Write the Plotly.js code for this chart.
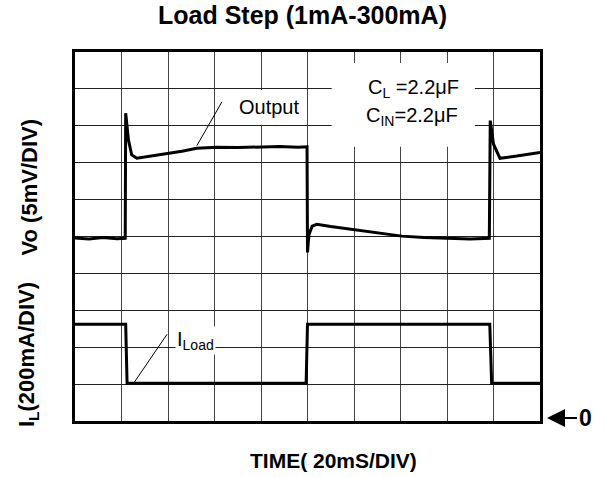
<!DOCTYPE html>
<html>
<head>
<meta charset="utf-8">
<script src="https://cdn.plot.ly/plotly-3.0.1.min.js"></script>
<style>html,body{margin:0;padding:0;background:#fff}</style>
</head>
<body>
<div id="chart" style="width:605px;height:477px"></div>
<script>
// Time axis in divisions (20 ms/div), vertical in divisions
var voTime = [0, 0.3, 0.6, 0.9, 1.08, 1.09, 1.15, 1.22, 1.33, 1.54, 1.97, 2.3, 2.62, 3.05, 3.5, 3.98, 4.4, 4.8, 4.99, 5.0, 5.03, 5.1, 5.2, 5.5, 6.0, 6.5, 7.03, 7.5, 8.03, 8.5, 8.91, 8.93, 9.0, 9.14, 9.5, 9.96, 10];
var voDiv  = [4.96, 4.93, 4.97, 4.94, 4.95, 8.34, 7.61, 7.21, 7.12, 7.16, 7.25, 7.31, 7.39, 7.42, 7.41, 7.43, 7.44, 7.42, 7.43, 4.57, 5.05, 5.28, 5.33, 5.27, 5.18, 5.09, 5.01, 4.97, 4.95, 4.93, 4.95, 8.14, 7.5, 7.12, 7.18, 7.27, 7.28];

var ilTime = [0, 1.09, 1.12, 2.0, 3.0, 4.0, 4.97, 5.0, 6.0, 7.0, 8.0, 8.92, 8.96, 10];
var ilDiv  = [2.62, 2.62, 1.02, 1.02, 1.02, 1.02, 1.02, 2.62, 2.62, 2.62, 2.62, 2.62, 1.02, 1.02];

var FONT = 'Liberation Sans, Arial, sans-serif';

var traces = [
  {x: voTime, y: voDiv, mode: 'lines', name: 'Output', line: {color: '#000', width: 3}, hoverinfo: 'skip'},
  {x: ilTime, y: ilDiv, mode: 'lines', name: 'ILoad', line: {color: '#000', width: 3}, hoverinfo: 'skip'}
];

function px2x(p){ return (p - 75) / 465; }
function py2y(p){ return (421 - p) / 369; }

var layout = {
  width: 605, height: 477,
  margin: {l: 75, r: 65, t: 52, b: 56},
  paper_bgcolor: '#fff', plot_bgcolor: '#fff',
  showlegend: false,
  font: {family: FONT, color: '#000'},
  title: {text: '<b>Load Step (1mA-300mA)</b>', font: {size: 25, family: FONT, color: '#000'},
          x: 0.5, xanchor: 'center', y: 1 - 15/477, yanchor: 'middle'},
  xaxis: {range: [0, 10], dtick: 1, tick0: 0, showticklabels: false, ticks: '',
          showgrid: true, gridcolor: '#444', gridwidth: 1, zeroline: false,
          showline: true, linecolor: '#000', linewidth: 3, mirror: true, fixedrange: true},
  yaxis: {range: [0, 10], dtick: 1, tick0: 0, showticklabels: false, ticks: '',
          showgrid: true, gridcolor: '#222', gridwidth: 1, zeroline: false,
          showline: true, linecolor: '#000', linewidth: 3, mirror: true, fixedrange: true},
  shapes: [
    {type: 'rect', xref: 'x', yref: 'y', x0: 5.52, x1: 8.60, y0: 7.43, y1: 9.70, fillcolor: '#fff', line: {width: 0}, layer: 'between'},
    {type: 'rect', xref: 'x', yref: 'y', x0: 3.05, x1: 4.95, y0: 8.03, y1: 8.97, fillcolor: '#fff', line: {width: 0}, layer: 'between'},
    {type: 'line', xref: 'x', yref: 'y', x0: 3.16, y0: 8.65, x1: 2.62, y1: 7.46, line: {color: '#000', width: 1}},
    {type: 'line', xref: 'x', yref: 'y', x0: 1.98, y0: 2.35, x1: 1.27, y1: 1.04, line: {color: '#000', width: 1}}
  ],
  annotations: [
    {xref: 'x', yref: 'y', x: 4.17, y: 8.51, xanchor: 'center', yanchor: 'middle', text: 'Output', showarrow: false, font: {size: 20, family: FONT}},
    {xref: 'x', yref: 'y', x: 7.27, y: 9.02, xanchor: 'center', yanchor: 'middle', text: 'C<sub>L</sub> =2.2\u03bcF', showarrow: false, font: {size: 20, family: FONT}},
    {xref: 'x', yref: 'y', x: 7.25, y: 8.25, xanchor: 'center', yanchor: 'middle', text: 'C<sub>IN</sub>=2.2\u03bcF', showarrow: false, font: {size: 20, family: FONT}},
    {xref: 'x', yref: 'y', x: 2.14, y: 2.18, xanchor: 'left', yanchor: 'middle', text: 'I<sub>Load</sub>', showarrow: false,
     font: {size: 20, family: FONT}, bgcolor: '#fff', borderpad: 1},
    {xref: 'paper', yref: 'paper', x: px2x(28.5), y: py2y(187), xanchor: 'center', yanchor: 'middle',
     text: '<b>Vo (5mV/DIV)</b>', textangle: -90, showarrow: false, font: {size: 22, family: FONT}},
    {xref: 'paper', yref: 'paper', x: px2x(28), y: py2y(355), xanchor: 'center', yanchor: 'middle',
     text: '<b>I<sub>L</sub>(200mA/DIV)</b>', textangle: -90, showarrow: false, font: {size: 22, family: FONT}},
    {xref: 'paper', yref: 'paper', x: px2x(333), y: py2y(460), xanchor: 'center', yanchor: 'middle',
     text: '<b>TIME( 20mS/DIV)</b>', showarrow: false, font: {size: 21, family: FONT}},
    {xref: 'paper', yref: 'paper', x: px2x(547), y: py2y(418), text: '<b>0</b>', showarrow: true,
     ax: 38, ay: 0, arrowhead: 2, arrowsize: 1.8, arrowwidth: 2, arrowcolor: '#000', standoff: 0,
     font: {size: 23, family: FONT}}
  ]
};

Plotly.newPlot('chart', traces, layout, {displayModeBar: false, staticPlot: true});
</script>
</body>
</html>
